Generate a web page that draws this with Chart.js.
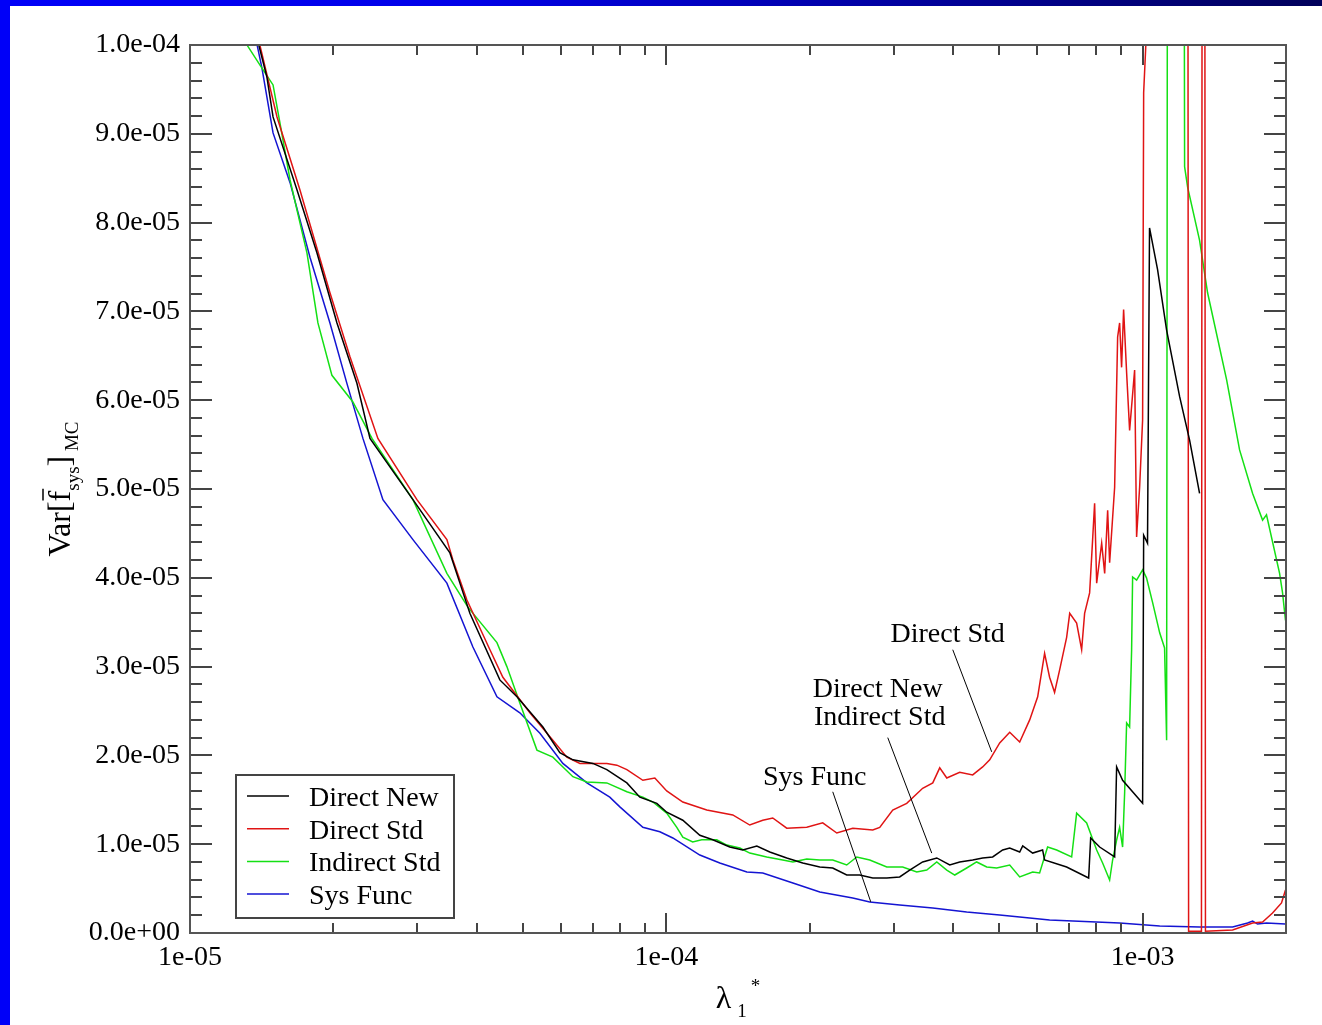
<!DOCTYPE html>
<html>
<head>
<meta charset="utf-8">
<script src="https://cdn.jsdelivr.net/npm/chart.js@4.4.0/dist/chart.umd.min.js"></script>
<style>
  html, body { margin: 0; padding: 0; background: #fff; }
  canvas { display: block; }
</style>
</head>
<body>
<canvas id="myChart" width="1322" height="1025"></canvas>
<script>
// lambda_1* values and Var[f_sys]_MC for each curve
var lamDirectNew = [1.369e-5,1.450e-5,1.494e-5,1.677e-5,1.847e-5,2.035e-5,2.241e-5,2.387e-5,2.938e-5,3.513e-5,3.687e-5,3.869e-5,4.472e-5,4.858e-5,5.507e-5,5.977e-5,6.366e-5,7.013e-5,7.500e-5,8.264e-5,8.799e-5,9.552e-5,10.02e-5,10.83e-5,11.76e-5,12.52e-5,13.59e-5,14.47e-5,15.49e-5,16.49e-5,17.90e-5,19.34e-5,21.00e-5,22.36e-5,23.92e-5,25.47e-5,27.13e-5,29.03e-5,30.90e-5,32.43e-5,34.53e-5,36.97e-5,39.36e-5,41.30e-5,43.98e-5,46.15e-5,48.44e-5,50.84e-5,52.60e-5,55.20e-5,56.01e-5,58.77e-5,61.66e-5,62.26e-5,69.26e-5,77.04e-5,77.79e-5,81.25e-5,87.35e-5,88.19e-5,90.78e-5,100.0e-5,100.5e-5,102.4e-5,102.9e-5,103.4e-5,107.5e-5,112.3e-5,119.6e-5,125.5e-5,131.7e-5];
var varDirectNew = [10.17e-5,9.64e-5,9.19e-5,8.37e-5,7.66e-5,6.87e-5,6.19e-5,5.57e-5,4.88e-5,4.28e-5,3.94e-5,3.60e-5,2.85e-5,2.66e-5,2.32e-5,2.03e-5,1.95e-5,1.91e-5,1.84e-5,1.69e-5,1.53e-5,1.46e-5,1.36e-5,1.27e-5,1.10e-5,1.05e-5,0.968e-5,0.935e-5,0.98e-5,0.912e-5,0.845e-5,0.788e-5,0.743e-5,0.732e-5,0.653e-5,0.653e-5,0.619e-5,0.619e-5,0.631e-5,0.709e-5,0.80e-5,0.845e-5,0.766e-5,0.80e-5,0.822e-5,0.845e-5,0.856e-5,0.935e-5,0.957e-5,0.912e-5,0.98e-5,0.90e-5,0.935e-5,0.822e-5,0.743e-5,0.619e-5,1.07e-5,0.968e-5,0.856e-5,1.87e-5,1.72e-5,1.46e-5,4.48e-5,4.39e-5,6.19e-5,7.94e-5,7.47e-5,6.79e-5,6.04e-5,5.55e-5,4.95e-5];

var lamDirectStd = [1.369e-5,1.523e-5,1.701e-5,1.967e-5,2.167e-5,2.480e-5,2.995e-5,3.462e-5,3.564e-5,3.814e-5,4.263e-5,4.538e-5,5.171e-5,5.778e-5,6.183e-5,6.585e-5,7.500e-5,7.873e-5,8.264e-5,8.928e-5,9.461e-5,10.02e-5,10.83e-5,12.16e-5,13.79e-5,14.97e-5,15.94e-5,16.73e-5,17.90e-5,19.72e-5,21.30e-5,22.80e-5,24.63e-5,27.13e-5,28.06e-5,29.88e-5,31.97e-5,34.53e-5,36.26e-5,37.50e-5,38.80e-5,41.30e-5,43.98e-5,46.15e-5,47.75e-5,50.11e-5,52.60e-5,55.20e-5,57.93e-5,60.21e-5,62.26e-5,63.78e-5,65.34e-5,66.94e-5,69.26e-5,70.30e-5,72.69e-5,74.47e-5,75.55e-5,77.40e-5,78.53e-5,79.29e-5,80.08e-5,82.04e-5,83.24e-5,84.45e-5,85.26e-5,87.35e-5,88.62e-5,89.48e-5,90.34e-5,91.22e-5,92.56e-5,93.91e-5,96.21e-5,97.14e-5,98.56e-5,100.0e-5,100.5e-5,101.9e-5,103.4e-5,124.4e-5,124.9e-5,132.9e-5,133.4e-5,135.0e-5,135.5e-5,154.5e-5,170.2e-5,178.6e-5,187.4e-5,195.7e-5,199.5e-5];
var varDirectStd = [10.23e-5,9.19e-5,8.37e-5,7.21e-5,6.49e-5,5.57e-5,4.88e-5,4.43e-5,4.20e-5,3.75e-5,3.19e-5,2.88e-5,2.48e-5,2.17e-5,1.98e-5,1.91e-5,1.91e-5,1.89e-5,1.84e-5,1.72e-5,1.745e-5,1.60e-5,1.475e-5,1.385e-5,1.33e-5,1.216e-5,1.27e-5,1.295e-5,1.18e-5,1.19e-5,1.24e-5,1.126e-5,1.18e-5,1.16e-5,1.19e-5,1.385e-5,1.46e-5,1.63e-5,1.69e-5,1.86e-5,1.745e-5,1.81e-5,1.78e-5,1.87e-5,1.95e-5,2.14e-5,2.26e-5,2.15e-5,2.40e-5,2.66e-5,3.15e-5,2.88e-5,2.71e-5,2.96e-5,3.33e-5,3.60e-5,3.49e-5,3.19e-5,3.60e-5,3.83e-5,4.43e-5,4.84e-5,3.94e-5,4.39e-5,4.05e-5,4.76e-5,4.17e-5,5.02e-5,6.71e-5,6.87e-5,6.37e-5,7.02e-5,6.31e-5,5.66e-5,6.34e-5,4.46e-5,5.02e-5,5.78e-5,9.46e-5,10.17e-5,14e-5,14e-5,0.02e-5,0.02e-5,14e-5,14e-5,0.02e-5,0.034e-5,0.113e-5,0.124e-5,0.225e-5,0.338e-5,0.484e-5];

var lamIndirectStd = [1.27e-5,1.317e-5,1.416e-5,1.494e-5,1.545e-5,1.622e-5,1.760e-5,1.856e-5,1.986e-5,2.198e-5,2.410e-5,2.938e-5,3.462e-5,3.832e-5,4.410e-5,4.627e-5,4.926e-5,5.350e-5,5.778e-5,6.366e-5,6.812e-5,7.500e-5,8.264e-5,8.928e-5,9.370e-5,10.02e-5,10.52e-5,10.83e-5,11.36e-5,11.87e-5,12.76e-5,13.40e-5,14.27e-5,14.97e-5,16.25e-5,17.56e-5,18.44e-5,19.72e-5,21.00e-5,22.36e-5,23.92e-5,25.11e-5,26.74e-5,29.03e-5,31.35e-5,33.56e-5,35.22e-5,36.97e-5,38.80e-5,40.33e-5,42.72e-5,44.83e-5,47.06e-5,49.39e-5,52.60e-5,55.20e-5,58.77e-5,60.78e-5,63.17e-5,66.00e-5,70.96e-5,72.69e-5,76.30e-5,80.08e-5,82.42e-5,85.26e-5,86.50e-5,88.19e-5,89.48e-5,90.78e-5,91.67e-5,92.56e-5,93.91e-5,94.82e-5,95.28e-5,97.14e-5,100.0e-5,101.9e-5,104.96e-5,108.6e-5,111.2e-5,112.3e-5,112.9e-5,121.9e-5,122.5e-5,124.3e-5,131.7e-5,136.9e-5,150.1e-5,159.8e-5,170.2e-5,178.6e-5,182.0e-5,193.9e-5,196.7e-5,199.5e-5];
var varIndirectStd = [10.17e-5,10.00e-5,9.74e-5,9.55e-5,9.12e-5,8.48e-5,7.66e-5,6.87e-5,6.28e-5,5.98e-5,5.57e-5,4.88e-5,4.05e-5,3.67e-5,3.27e-5,3.00e-5,2.59e-5,2.06e-5,1.98e-5,1.76e-5,1.70e-5,1.69e-5,1.59e-5,1.53e-5,1.475e-5,1.35e-5,1.19e-5,1.08e-5,1.025e-5,1.05e-5,1.05e-5,0.99e-5,0.957e-5,0.90e-5,0.856e-5,0.822e-5,0.80e-5,0.833e-5,0.822e-5,0.822e-5,0.766e-5,0.856e-5,0.822e-5,0.743e-5,0.743e-5,0.687e-5,0.709e-5,0.80e-5,0.709e-5,0.653e-5,0.732e-5,0.80e-5,0.743e-5,0.732e-5,0.766e-5,0.631e-5,0.687e-5,0.676e-5,0.968e-5,0.935e-5,0.856e-5,1.35e-5,1.24e-5,0.935e-5,0.788e-5,0.597e-5,0.822e-5,1.047e-5,1.19e-5,0.968e-5,1.577e-5,2.365e-5,2.32e-5,3.19e-5,4.01e-5,3.975e-5,4.09e-5,4.00e-5,3.72e-5,3.38e-5,3.21e-5,2.17e-5,15e-5,15e-5,8.63e-5,8.40e-5,7.80e-5,7.21e-5,6.23e-5,5.44e-5,4.95e-5,4.65e-5,4.71e-5,4.05e-5,3.83e-5,3.52e-5];

var lamSysFunc = [1.349e-5,1.416e-5,1.494e-5,1.622e-5,1.786e-5,1.967e-5,2.135e-5,2.307e-5,2.541e-5,2.938e-5,3.462e-5,3.926e-5,4.410e-5,4.926e-5,5.428e-5,6.065e-5,6.812e-5,7.609e-5,7.989e-5,8.928e-5,9.692e-5,10.32e-5,11.76e-5,12.95e-5,14.76e-5,15.94e-5,18.44e-5,21.00e-5,24.63e-5,26.74e-5,30.90e-5,36.26e-5,42.72e-5,50.11e-5,55.20e-5,63.78e-5,89.48e-5,108.6e-5,131.7e-5,154.5e-5,166.1e-5,170.2e-5,174.3e-5,182.0e-5,199.5e-5];
var varSysFunc = [10.28e-5,9.74e-5,9.01e-5,8.45e-5,7.61e-5,6.87e-5,6.19e-5,5.57e-5,4.88e-5,4.43e-5,3.94e-5,3.22e-5,2.66e-5,2.48e-5,2.25e-5,1.91e-5,1.69e-5,1.53e-5,1.42e-5,1.19e-5,1.14e-5,1.07e-5,0.878e-5,0.788e-5,0.687e-5,0.676e-5,0.563e-5,0.462e-5,0.394e-5,0.349e-5,0.315e-5,0.282e-5,0.236e-5,0.203e-5,0.180e-5,0.146e-5,0.113e-5,0.079e-5,0.068e-5,0.068e-5,0.113e-5,0.135e-5,0.101e-5,0.113e-5,0.101e-5];

var seriesNames = ['Direct New', 'Direct Std', 'Indirect Std', 'Sys Func'];
var seriesColors = ['#000000', '#e01414', '#14e014', '#1414d2'];
var seriesLam = [lamDirectNew, lamDirectStd, lamIndirectStd, lamSysFunc];
var seriesVar = [varDirectNew, varDirectStd, varIndirectStd, varSysFunc];

var lamMin = 1e-5, lamMax = 2e-3;
var varMin = 0, varMax = 1e-4, varStep = 1e-5, varMinorStep = 2e-6;

// labels written on the plot, anchored at (lambda, var) baseline centre
var noteTexts = ['Direct Std', 'Direct New', 'Indirect Std', 'Sys Func'];
var noteLam = [38.97e-5, 27.79e-5, 28.06e-5, 20.49e-5];
var noteVar = [3.28e-5, 2.66e-5, 2.34e-5, 1.667e-5];
// pointer lines: [lam1, var1, lam2, var2]
var notePointers = [
  [39.94e-5, 3.19e-5, 48.21e-5, 2.04e-5],
  [29.17e-5, 2.20e-5, 36.08e-5, 0.90e-5],
  [22.36e-5, 1.59e-5, 26.87e-5, 0.35e-5]
];

var serif = '"Liberation Serif", "DejaVu Serif", serif';

function fmtVar(v) {
  if (Math.abs(v) < 1e-12) return '0.0e+00';
  var e = Math.floor(Math.log10(Math.abs(v)) + 1e-9);
  var m = v / Math.pow(10, e);
  return m.toFixed(1) + 'e' + (e < 0 ? '-' : '+') + String(Math.abs(e)).padStart(2, '0');
}
function fmtLam(v) {
  var l = Math.log10(v);
  if (Math.abs(l - Math.round(l)) > 1e-6) return '';
  var e = Math.round(l);
  return '1e' + (e < 0 ? '-' : '+') + String(Math.abs(e)).padStart(2, '0');
}

var decor = {
  id: 'decor',
  beforeDraw: function (chart) {
    var c = chart.ctx, w = chart.width, h = chart.height;
    c.save();
    c.fillStyle = '#fff';
    c.fillRect(0, 0, w, h);
    var g = c.createLinearGradient(0, 0, w, 0);
    g.addColorStop(0, '#0000f8');
    g.addColorStop(0.35, '#0000e8');
    g.addColorStop(1, '#00005a');
    c.fillStyle = g;
    c.fillRect(0, 0, w, 6);
    c.fillStyle = '#0000f8';
    c.fillRect(0, 0, 10, h);
    c.restore();
  },
  afterDraw: function (chart) {
    var c = chart.ctx, a = chart.chartArea;
    var xs = chart.scales.x, ys = chart.scales.y;
    c.save();

    // inward ticks on all four sides
    c.strokeStyle = '#444';
    c.lineWidth = 2;
    c.beginPath();
    var n = Math.round((varMax - varMin) / varMinorStep);
    for (var i = 0; i <= n; i++) {
      var py = Math.round(ys.getPixelForValue(varMin + i * varMinorStep));
      var len = (i % 5 == 0) ? 22 : 12;
      c.moveTo(a.left, py); c.lineTo(a.left + len, py);
      c.moveTo(a.right, py); c.lineTo(a.right - len, py);
    }
    for (var e = -5; e <= -3; e++) {
      for (var m = 1; m <= 9; m++) {
        var v = m * Math.pow(10, e);
        if (v > lamMax * 1.0001) continue;
        var px = Math.round(xs.getPixelForValue(v));
        var tl = (m == 1) ? 20 : 10;
        c.moveTo(px, a.bottom); c.lineTo(px, a.bottom - tl);
        c.moveTo(px, a.top); c.lineTo(px, a.top + tl);
      }
    }
    c.stroke();

    c.strokeStyle = '#555';
    c.lineWidth = 2;
    c.strokeRect(a.left, a.top, a.right - a.left, a.bottom - a.top);

    // notes with pointer lines
    c.fillStyle = '#000';
    c.font = '28px ' + serif;
    c.textAlign = 'center';
    c.textBaseline = 'alphabetic';
    for (var k = 0; k < noteTexts.length; k++) {
      c.fillText(noteTexts[k], xs.getPixelForValue(noteLam[k]), ys.getPixelForValue(noteVar[k]));
    }
    c.strokeStyle = '#000';
    c.lineWidth = 1;
    c.beginPath();
    notePointers.forEach(function (p) {
      c.moveTo(xs.getPixelForValue(p[0]), ys.getPixelForValue(p[1]));
      c.lineTo(xs.getPixelForValue(p[2]), ys.getPixelForValue(p[3]));
    });
    c.stroke();

    // legend box
    var bx = a.left + 46, by = a.bottom - 158, bw = 218, bh = 143;
    c.fillStyle = '#fff';
    c.fillRect(bx, by, bw, bh);
    c.strokeStyle = '#444';
    c.lineWidth = 2;
    c.strokeRect(bx, by, bw, bh);
    c.textAlign = 'left';
    c.font = '28px ' + serif;
    for (var j = 0; j < seriesNames.length; j++) {
      var ly = by + 21 + j * 32.7;
      c.strokeStyle = seriesColors[j];
      c.lineWidth = 1.5;
      c.beginPath();
      c.moveTo(bx + 11, ly); c.lineTo(bx + 53, ly);
      c.stroke();
      c.fillStyle = '#000';
      c.fillText(seriesNames[j], bx + 73, ly + 10);
    }

    // y axis title: Var[f-bar_sys]_MC
    var big = '32px ' + serif, small = '19px ' + serif;
    var parts = [['Var[', big, 0], ['f', big, 0], ['sys', small, 9], [']', big, 0], [' MC', small, 8]];
    var total = 0, widths = [];
    parts.forEach(function (p) { c.font = p[1]; var w = c.measureText(p[0]).width; widths.push(w); total += w; });
    c.save();
    c.translate(a.left - 120, (a.top + a.bottom) / 2 + total / 2);
    c.rotate(-Math.PI / 2);
    c.fillStyle = '#000';
    var cx = 0;
    for (var q = 0; q < parts.length; q++) {
      c.font = parts[q][1];
      c.fillText(parts[q][0], cx, parts[q][2]);
      if (parts[q][0] == 'f') {
        c.strokeStyle = '#000';
        c.lineWidth = 1.5;
        c.beginPath();
        c.moveTo(cx + 1, -27); c.lineTo(cx + widths[q] + 2, -27);
        c.stroke();
      }
      cx += widths[q];
    }
    c.restore();

    // x axis title: lambda_1^*
    c.fillStyle = '#000';
    c.font = big;
    var lw = c.measureText('\u03bb').width;
    c.font = small;
    var ow = c.measureText('1').width;
    var tw = lw + 6 + ow + 4 + c.measureText('*').width;
    var sx = (a.left + a.right) / 2 - tw / 2, base = a.bottom + 75;
    c.font = big;
    c.fillText('\u03bb', sx, base);
    c.font = small;
    c.fillText('1', sx + lw + 6, base + 9);
    c.fillText('*', sx + lw + 6 + ow + 4, base - 16);

    c.restore();
  }
};

var datasets = seriesNames.map(function (name, i) {
  return {
    label: name,
    data: seriesLam[i].map(function (x, j) { return { x: x, y: seriesVar[i][j] }; }),
    borderColor: seriesColors[i],
    borderWidth: 1.5,
    pointRadius: 0,
    fill: false,
    tension: 0
  };
});

var chrt = new Chart(document.getElementById('myChart'), {
  type: 'line',
  data: { datasets: datasets },
  options: {
    responsive: false,
    animation: false,
    layout: { padding: { left: 0, top: 45, right: 36, bottom: 0 } },
    plugins: { legend: { display: false }, tooltip: { enabled: false } },
    scales: {
      x: {
        type: 'logarithmic',
        min: lamMin,
        max: lamMax,
        grid: { display: false, drawTicks: false },
        border: { display: false },
        ticks: {
          autoSkip: false, maxRotation: 0, padding: 8, color: '#000',
          font: { family: serif, size: 28 },
          callback: function (v) { return fmtLam(v); }
        },
        afterFit: function (s) { s.height = 92; }
      },
      y: {
        type: 'linear',
        min: varMin,
        max: varMax,
        grid: { display: false, drawTicks: false },
        border: { display: false },
        ticks: {
          stepSize: varStep, padding: 10, color: '#000',
          font: { family: serif, size: 28 },
          callback: function (v) { return fmtVar(v); }
        },
        afterFit: function (s) { s.width = 190; }
      }
    }
  },
  plugins: [decor]
});
</script>
</body>
</html>
